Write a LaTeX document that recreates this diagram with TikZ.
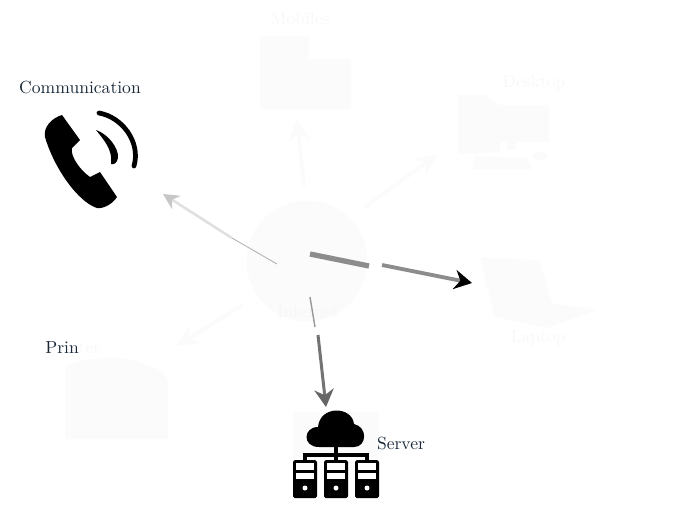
\documentclass[tikz,border=0pt]{standalone}
\usetikzlibrary{arrows.meta}
\definecolor{pale}{gray}{.985}
\definecolor{paletext}{gray}{.97}
\definecolor{inktext}{rgb}{.1,.16,.22}
\tikzset{
  label/.style={font=\fontsize{10}{12}\selectfont,inner sep=0pt,text=inktext},
  palelabel/.style={label,text=paletext},
  palearrow/.style={-{Stealth[length=13pt,width=12pt]},draw=pale,line width=2.2pt},
  bar/.style={line width=#1,draw=black!45},
  bartip/.style={-{Stealth[length=#1]}}
}
\begin{document}
\begin{tikzpicture}[x=.02cm,y=-.02cm]
	\useasboundingbox (0,0) rectangle (673,505);

	% pale icons
	\node (internet) [circle,fill=pale,minimum size=2.42cm,inner sep=0pt] at (307,261) {};
	\fill[pale] (260,36) -- (309,36) -- (309,59) -- (351,59) -- (351,109) -- (260,109) -- cycle;
	\fill[pale] (458,95) -- (486,95) -- (500,105) -- (549,105) -- (549,142) -- (500,142) -- (500,152) -- (458,154) -- cycle;
	\fill[pale] (475,157) -- (527,157) -- (532,169) -- (472,169) -- cycle;
	\fill[pale] (507,142) rectangle (516,150);
	\fill[pale] (540,156) ellipse (7 and 4);
	\fill[pale] (480,258) -- (540,260) -- (552,303) -- (597,310) -- (547,328) -- (495,317) -- cycle;
	\fill[pale] (65,439) -- (65,368) .. controls (72,358) and (130,352) .. (148,366) .. controls (160,368) and (168,375) .. (168,385) -- (168,439) -- cycle;
	\fill[pale] (293,412) rectangle (379,458);

	% labels
	\node[palelabel] (mobiles) at (300,18) {Mobiles};
	\node[palelabel] (desktop) at (534,83) {Desktop};
	\node[palelabel] (laptop) at (538,338) {Laptop};
	\node[palelabel] (inet) at (308,312) {Internet};
	\node[label] (comm) at (80,87) {Communication};
	\node[label,anchor=west] (printer) at (45,348) {Prin\textcolor{paletext}{ter}};
	\node[label] (server) at (401,443) {Server};

	% arrow ends
	\coordinate (a) at (304,186);
	\coordinate (a1) at (297,118);
	\coordinate (b) at (365,207);
	\coordinate (b1) at (438,154);
	\coordinate (c) at (243,305);
	\coordinate (c1) at (176,346);
	\coordinate (d) at (277,264);
	\coordinate (d1) at (232,238);
	\coordinate (d2) at (163,194);
	\coordinate (e) at (310,254);
	\coordinate (e1) at (369,266);
	\coordinate (e2) at (382,265);
	\coordinate (e3) at (472,283);
	\coordinate (f) at (310,297);
	\coordinate (f1) at (315,327);
	\coordinate (f2) at (318,335);
	\coordinate (f3) at (326,407);

	\foreach \from/\to in {a/a1,b/b1,c/c1}
    \draw[palearrow] (\from) -- (\to);

	\draw[draw=black!30,line width=.5pt] (d) -- (d1);
	\draw[-{Stealth[length=9pt,width=9pt,color=black!22]},draw=black!12,line width=1.5pt] (d1) -- (d2);
	\draw[bar=3pt] (e) -- (e1);
	\draw[bar=2.2pt,-{Stealth[length=10pt,width=11pt,color=black]}] (e2) -- (e3);
	\draw[draw=black!40,line width=.8pt] (f) -- (f1);
	\draw[-{Stealth[length=10pt,width=11pt,color=black!60]},draw=black!55,line width=1.7pt] (f2) -- (f3);

	% phone
	\fill (62,115) -- (80,140) -- (72,148) .. controls (70,156) and (80,170) .. (90,177) -- (100,172) -- (117,197) .. controls (112,205) and (102,209) .. (97,208) .. controls (78,202) and (54,168) .. (45,137) .. controls (43,127) and (52,118) .. (62,115) -- cycle;
	\draw[line width=2.7pt,line cap=round] (99,113) .. controls (122,117) and (141,142) .. (134,166);
	\fill (96,130) .. controls (108,134) and (119,148) .. (118,158) .. controls (117,163) and (114,165) .. (111,164) .. controls (113,150) and (104,140) .. (96,130) -- cycle;

	% cloud
	\fill (319,447) .. controls (302,447) and (303,427) .. (318,427) .. controls (320,405) and (352,406) .. (354,424) .. controls (368,427) and (367,447) .. (354,447) -- cycle;
	\draw[line width=2pt] (336,447) -- (336,460);
	\draw[line width=2pt] (305,460) -- (305,455) -- (367,455) -- (367,460);

	% towers
	\foreach \pos in {293,324,355}
    {
	\fill[rounded corners=1pt] (\pos,460) rectangle ++(24,38);
	\fill[white] (\pos+3,463) rectangle ++(18,7);
	\fill[white] (\pos+3,473) rectangle ++(18,6);
	\fill[white] (\pos+12,488) circle (2.5);
    }

\end{tikzpicture}
\end{document}
